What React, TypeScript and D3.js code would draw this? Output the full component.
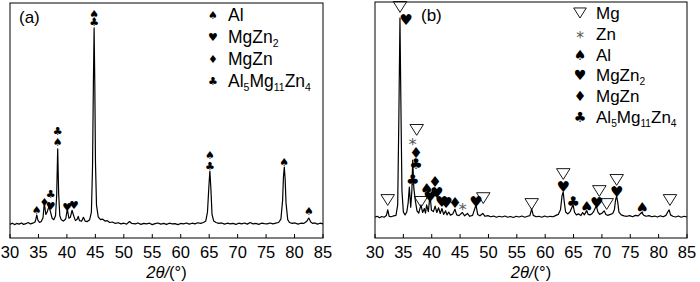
import React from 'react';
import * as d3 from 'd3';

const xTicks = [30, 35, 40, 45, 50, 55, 60, 65, 70, 75, 80, 85];

// 2θ (deg), intensity (a.u., 0-1000)
const patternA: [number, number][] = [
  [30,58],[30.4,63],[30.8,57],[31.2,62],[31.6,59],[32,64],[32.4,58],[32.8,61],[33.2,66],[33.6,60],[34,63],[34.4,68],[34.55,80],[34.7,98],[34.9,76],[35.2,66],[35.5,70],[35.8,86],[36.03,149],[36.3,100],[36.55,112],[36.85,135],[37.15,108],[37.4,84],[37.7,78],[38.0,95],[38.2,180],[38.38,379],[38.55,190],[38.75,95],[39.0,78],[39.4,72],[39.8,82],[40.07,123],[40.35,84],[40.6,88],[40.9,118],[41.25,90],[41.5,74],[41.8,80],[42.0,92],[42.2,74],[42.6,72],[42.9,88],[43.2,72],[43.6,70],[44.0,78],[44.3,110],[44.5,300],[44.65,650],[44.78,894],[44.9,660],[45.02,320],[45.2,140],[45.5,90],[45.9,78],[46.3,80],[46.7,72],[47.1,74],[47.5,66],[48,68],[48.5,62],[49,65],[49.5,60],[50,63],[50.5,59],[51,70],[51.4,62],[52,60],[52.5,64],[53,58],[53.5,62],[54,60],[54.5,63],[55,57],[55.5,61],[56,64],[56.5,59],[57,62],[57.5,58],[58,63],[58.5,60],[59,61],[59.5,57],[60,62],[60.5,60],[61,64],[61.5,59],[62,63],[62.5,60],[63,65],[63.5,62],[64,66],[64.4,72],[64.7,110],[64.95,220],[65.12,285],[65.3,210],[65.5,100],[65.8,72],[66.2,66],[66.7,62],[67.2,64],[67.7,59],[68.2,63],[68.7,60],[69.2,62],[69.7,58],[70.2,63],[70.7,60],[71.2,64],[71.7,59],[72.2,66],[72.7,60],[73.2,62],[73.7,58],[74.2,63],[74.7,61],[75.2,60],[75.7,64],[76.2,60],[76.7,63],[77.2,66],[77.6,80],[77.9,160],[78.05,260],[78.2,302],[78.35,250],[78.5,150],[78.8,78],[79.1,66],[79.6,62],[80.1,64],[80.6,59],[81.1,63],[81.6,62],[82.1,70],[82.5,85],[82.85,68],[83.2,62],[83.6,64],[84,59],[84.5,63],[85,60]
];

const patternB: [number, number][] = [
  [30,88],[30.4,92],[30.8,86],[31.2,91],[31.6,88],[32.0,95],[32.25,119],[32.5,92],[32.9,90],[33.3,94],[33.7,96],[34.0,140],[34.2,500],[34.4,932],[34.55,600],[34.75,200],[35.0,110],[35.3,98],[35.6,110],[35.85,150],[36.05,216],[36.3,130],[36.5,200],[36.65,330],[36.85,210],[37.1,160],[37.4,115],[37.7,105],[38.1,140],[38.4,108],[38.7,125],[38.9,105],[39.1,140],[39.4,112],[39.7,182],[39.95,118],[40.3,112],[40.6,135],[40.9,108],[41.2,128],[41.5,104],[41.8,125],[42.1,100],[42.45,115],[42.7,98],[43.0,110],[43.3,97],[43.7,102],[44.1,122],[44.4,98],[44.8,95],[45.4,108],[45.8,94],[46.3,104],[46.7,92],[47.2,96],[47.8,140],[48.1,100],[48.5,94],[49.0,104],[49.4,92],[49.9,95],[50.4,90],[50.9,93],[51.4,88],[51.9,92],[52.4,89],[52.9,93],[53.4,88],[53.9,91],[54.4,87],[54.9,92],[55.4,89],[55.9,93],[56.4,88],[56.9,92],[57.3,95],[57.62,123],[57.9,96],[58.4,90],[58.9,92],[59.4,88],[59.9,93],[60.4,89],[60.9,92],[61.4,90],[61.9,96],[62.3,100],[62.7,120],[62.98,180],[63.18,195],[63.38,150],[63.6,110],[64.0,102],[64.4,112],[64.9,140],[65.2,108],[65.5,98],[65.9,102],[66.3,95],[66.6,108],[66.9,98],[67.3,115],[67.6,100],[67.9,98],[68.3,104],[68.6,115],[69.0,136],[69.3,110],[69.6,100],[70.0,105],[70.4,115],[70.7,100],[71.0,96],[71.5,100],[71.9,104],[72.2,120],[72.4,160],[72.6,178],[72.8,150],[73.0,110],[73.4,98],[73.9,94],[74.4,92],[74.9,95],[75.4,90],[75.9,96],[76.4,94],[77.0,108],[77.4,96],[77.8,92],[78.3,95],[78.8,90],[79.3,93],[79.8,89],[80.3,94],[80.8,90],[81.3,96],[81.6,110],[81.85,119],[82.1,98],[82.5,92],[83,89],[83.5,93],[84,88],[84.5,92],[85,89]
];

// phase marker: [symbol, 2θ, intensity position]
type Mark = [string, number, number];
const marksA: Mark[] = [
  ['spade',44.81,953],['club',44.81,915],
  ['club',38.38,455],['spade',38.38,408],
  ['spade',34.69,115],['diamond',36.03,153],
  ['club',37.15,183],['heart',37.15,136],
  ['heart',40.07,128],['heart',41.25,140],
  ['spade',65.14,349],['club',65.14,306],
  ['spade',78.2,323],['spade',82.54,111]
];
const marksB: Mark[] = [
  ['tri',32.24,161],['tri',34.41,979],['heart',35.46,924],
  ['tri',37.35,458],['star',36.65,415],['diamond',37.23,360],['club',37.23,314],['club',36.65,246],
  ['spade',39.11,208],['diamond',40.58,237],['heart',39.69,174],['heart',40.88,191],
  ['tri',38.11,153],['heart',41.76,153],['heart',42.52,148],['diamond',44.1,148],
  ['star',45.46,140],['heart',47.8,153],['tri',49.09,169],['tri',57.62,144],
  ['tri',63.19,271],['heart',63.19,216],['club',64.96,153],['spade',67.32,131],
  ['heart',69.08,148],['tri',69.54,199],['tri',70.84,144],
  ['tri',72.6,246],['heart',72.6,195],['spade',77.12,127],['tri',82.0,161]
];

const legendA: [string, string][] = [['spade','Al'],['heart','MgZn2'],['diamond','MgZn'],['club','Al5Mg11Zn4']];
const legendB: [string, string][] = [['tri','Mg'],['star','Zn'],['spade','Al'],['heart','MgZn2'],['diamond','MgZn'],['club','Al5Mg11Zn4']];

const glyph: Record<string, string> = { spade: '\u2660', heart: '\u2665', diamond: '\u2666', club: '\u2663' };
const FONT = 'Arial, "Liberation Sans", sans-serif';

function Symbol({ kind, x, y, size }: { kind: string; x: number; y: number; size: number }) {
  if (kind === 'tri') {
    const w = size * 0.45, h = size * 0.72;
    return <path d={`M${x - w},${y - h / 2}L${x + w},${y - h / 2}L${x},${y + h / 2}Z`} fill="none" stroke="#000" strokeWidth={0.9} />;
  }
  if (kind === 'star') {
    return <text x={x} y={y + size * 0.32} textAnchor="middle" dominantBaseline="central" fontFamily="DejaVu Sans" fontSize={size * 1.1} fill="#555">*</text>;
  }
  return <text x={x} y={y} textAnchor="middle" dominantBaseline="central" fontFamily="DejaVu Sans" fontSize={size} fill="#000">{glyph[kind]}</text>;
}

function Label({ x, y, text, size }: { x: number; y: number; text: string; size: number }) {
  const parts = text.match(/[A-Za-z]+|\d+/g) || [];
  return (
    <text x={x} y={y} fontFamily={FONT} fontSize={size} fill="#000" dominantBaseline="central">
      {parts.map((p, i) => /\d/.test(p)
        ? <tspan key={i} fontSize={size * 0.6} dy={6}>{p}</tspan>
        : <tspan key={i} dy={i > 0 && /\d/.test(parts[i - 1]) ? -6 : 0}>{p}</tspan>)}
    </text>
  );
}

function Panel({ x0, x1, y0, y1, data, marks, legend, tag, tagX, tagY, symSize, legX, legTextX, legY, legStep, legSym, legFont }: any) {
  const xs = d3.scaleLinear().domain([30, 85]).range([x0, x1]);
  const ys = d3.scaleLinear().domain([0, 1000]).range([y1, y0]);
  const line = d3.line<[number, number]>().x(d => xs(d[0])).y(d => ys(d[1]));
  return (
    <g>
      <path d={line(data) || ''} fill="none" stroke="#000" strokeWidth={1.2} strokeLinejoin="round" />
      {marks.map((m: Mark, i: number) => <Symbol key={i} kind={m[0]} x={xs(m[1])} y={ys(m[2])} size={symSize} />)}
      <rect x={x0} y={y0} width={x1 - x0} height={y1 - y0} fill="none" stroke="#000" strokeWidth={1} />
      {xTicks.map(t => (
        <g key={t}>
          <line x1={xs(t)} x2={xs(t)} y1={y1} y2={y1 - 4} stroke="#000" strokeWidth={1} />
          <text x={xs(t)} y={y1 + 20} textAnchor="middle" fontFamily={FONT} fontSize={16.5} fill="#000">{t}</text>
        </g>
      ))}
      <text x={(x0 + x1) / 2} y={y1 + 40} textAnchor="middle" fontFamily={FONT} fontSize={16.5} fill="#000">
        <tspan fontStyle="italic">2θ/</tspan><tspan>(°)</tspan>
      </text>
      <text x={tagX} y={tagY} fontFamily={FONT} fontSize={17} fill="#000" dominantBaseline="central">{tag}</text>
      {legend.map((l: [string, string], i: number) => (
        <g key={i}>
          <Symbol kind={l[0]} x={legX} y={legY + i * legStep} size={legSym} />
          <Label x={legTextX} y={legY + i * legStep} text={l[1]} size={legFont} />
        </g>
      ))}
    </g>
  );
}

export default function App() {
  return (
    <svg width={700} height={282} style={{ position: 'absolute', left: 0, top: 0, background: '#fff' }}>
      <rect x={0} y={0} width={700} height={282} fill="#fff" />
      <Panel x0={10} x1={323} y0={3} y1={238} data={patternA} marks={marksA} legend={legendA}
        tag="(a)" tagX={19} tagY={17} symSize={11}
        legX={213} legTextX={228} legY={15} legStep={22} legSym={11} legFont={17.5} />
      <Panel x0={375} x1={687} y0={2} y1={238} data={patternB} marks={marksB} legend={legendB}
        tag="(b)" tagX={421} tagY={15} symSize={15}
        legX={580} legTextX={596} legY={13} legStep={20.8} legSym={14} legFont={17} />
    </svg>
  );
}
